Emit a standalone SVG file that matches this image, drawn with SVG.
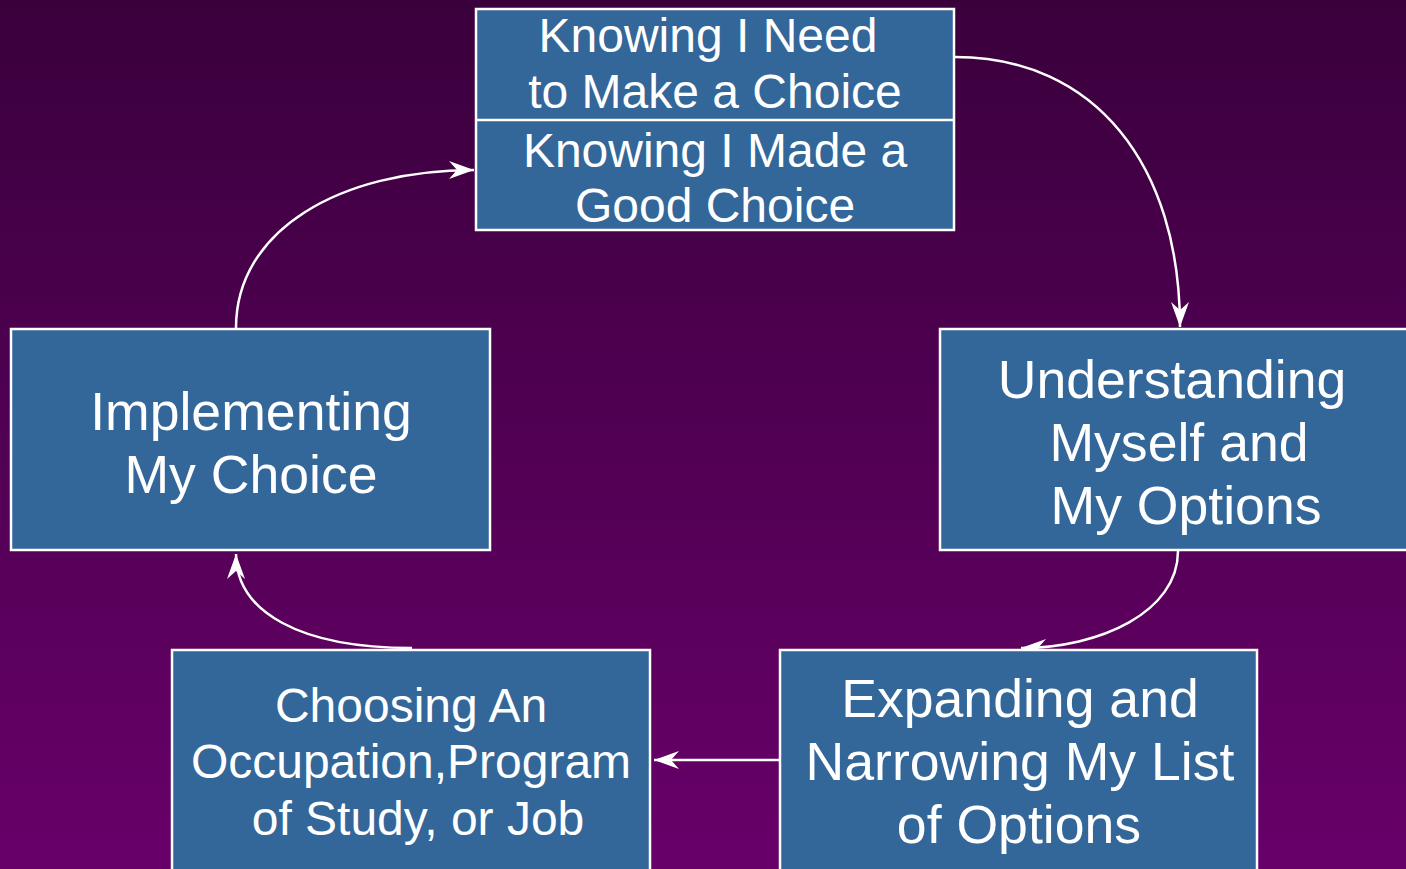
<svg xmlns="http://www.w3.org/2000/svg" width="1406" height="869" viewBox="0 0 1406 869">
  <defs>
    <linearGradient id="bg" x1="0" y1="0" x2="0" y2="1">
      <stop offset="0" stop-color="#3a003c"/>
      <stop offset="1" stop-color="#68006a"/>
    </linearGradient>
    <marker id="head" markerUnits="userSpaceOnUse" markerWidth="30" markerHeight="24" viewBox="-26 -12 30 24" refX="0" refY="0" orient="auto">
      <path d="M0,0 L-25,-9 L-17,0 L-25,9 Z" fill="#ffffff"/>
    </marker>
    <style>
      .box { fill: #336699; stroke: #ffffff; stroke-width: 2.5; }
      .t { font-family: "Liberation Sans", Arial, sans-serif; fill: #ffffff; text-anchor: middle; }
      .s { font-size: 48px; }
      .l { font-size: 53.6px; }
      .edge { fill: none; stroke: #ffffff; stroke-width: 2.5; marker-end: url(#head); }
    </style>
  </defs>

  <rect width="1406" height="869" fill="url(#bg)"/>

  <!-- connectors -->
  <g id="connectors">
    <path class="edge" d="M955,57 C1095,57 1180,165 1180,327"/>
    <path class="edge" d="M1178,551 C1178,612 1100,648 1021,648"/>
    <path class="edge" d="M780,760 L654,760"/>
    <path class="edge" d="M412,648 C300,648 236,612 236,554"/>
    <path class="edge" d="M236,328 C236,230 340,170 474,170"/>
  </g>

  <!-- cycle start / end -->
  <g id="node-knowing">
    <rect class="box" x="476" y="9" width="478" height="221"/>
    <line x1="476" y1="120" x2="954" y2="120" stroke="#ffffff" stroke-width="2.5"/>
    <text class="t s" x="708" y="52">Knowing I Need</text>
    <text class="t s" x="715" y="108">to Make a Choice</text>
    <text class="t s" x="715" y="167">Knowing I Made a</text>
    <text class="t s" x="715" y="222">Good Choice</text>
  </g>

  <g id="node-understanding">
    <rect class="box" x="940" y="329" width="480" height="221"/>
    <text class="t l" x="1172" y="398">Understanding</text>
    <text class="t l" x="1179" y="461">Myself and</text>
    <text class="t l" x="1186" y="524">My Options</text>
  </g>

  <g id="node-expanding">
    <rect class="box" x="780" y="650" width="477" height="240"/>
    <text class="t l" x="1020" y="717">Expanding and</text>
    <text class="t l" x="1020" y="780">Narrowing My List</text>
    <text class="t l" x="1019" y="843">of Options</text>
  </g>

  <g id="node-choosing">
    <rect class="box" x="172" y="650" width="478" height="240"/>
    <text class="t s" x="411" y="722">Choosing An</text>
    <text class="t s" x="411" y="778">Occupation,Program</text>
    <text class="t s" x="418" y="835">of Study, or Job</text>
  </g>

  <g id="node-implementing">
    <rect class="box" x="11" y="329" width="479" height="221"/>
    <text class="t l" x="251" y="430">Implementing</text>
    <text class="t l" x="251" y="493">My Choice</text>
  </g>
</svg>
